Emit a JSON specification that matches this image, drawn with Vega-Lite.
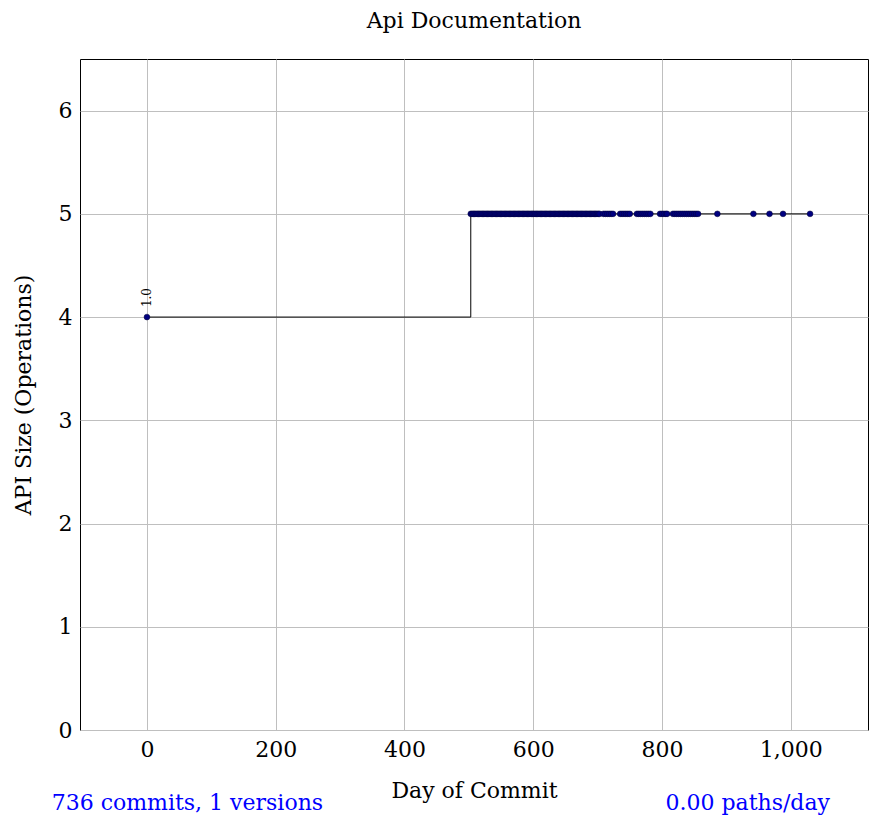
{
  "$schema": "https://vega.github.io/schema/vega-lite/v6.json",
  "width": 788,
  "height": 671,
  "autosize": {"type": "none"},
  "padding": {"left": 80, "top": 59, "right": 1, "bottom": 93},
  "background": "white",
  "config": {
    "font": "DejaVu Serif",
    "view": {"stroke": "black", "strokeWidth": 1},
    "axis": {
      "labelFont": "DejaVu Serif",
      "titleFont": "DejaVu Serif",
      "labelFontSize": 22,
      "titleFontSize": 22,
      "titleFontWeight": "normal",
      "labelColor": "black",
      "titleColor": "black",
      "gridColor": "#bfbfbf",
      "gridWidth": 1,
      "domain": false,
      "ticks": false
    },
    "title": {"font": "DejaVu Serif", "fontSize": 22, "fontWeight": "normal", "color": "black", "offset": 26}
  },
  "title": {"text": "Api Documentation", "anchor": "middle"},
  "datasets": {
    "commits": [
      {"day": 0, "size": 4, "version": "1.0"},
      {"day": 503, "size": 5}, {"day": 505, "size": 5}, {"day": 507, "size": 5}, {"day": 509, "size": 5},
      {"day": 511, "size": 5}, {"day": 513, "size": 5}, {"day": 515, "size": 5}, {"day": 517, "size": 5},
      {"day": 519, "size": 5}, {"day": 521, "size": 5}, {"day": 523, "size": 5}, {"day": 525, "size": 5},
      {"day": 527, "size": 5}, {"day": 529, "size": 5}, {"day": 531, "size": 5}, {"day": 533, "size": 5},
      {"day": 535, "size": 5}, {"day": 537, "size": 5}, {"day": 539, "size": 5}, {"day": 541, "size": 5},
      {"day": 543, "size": 5}, {"day": 545, "size": 5}, {"day": 547, "size": 5}, {"day": 549, "size": 5},
      {"day": 551, "size": 5}, {"day": 553, "size": 5}, {"day": 555, "size": 5}, {"day": 557, "size": 5},
      {"day": 559, "size": 5}, {"day": 561, "size": 5}, {"day": 563, "size": 5}, {"day": 565, "size": 5},
      {"day": 567, "size": 5}, {"day": 569, "size": 5}, {"day": 571, "size": 5}, {"day": 573, "size": 5},
      {"day": 575, "size": 5}, {"day": 577, "size": 5}, {"day": 579, "size": 5}, {"day": 581, "size": 5},
      {"day": 583, "size": 5}, {"day": 585, "size": 5}, {"day": 587, "size": 5}, {"day": 589, "size": 5},
      {"day": 591, "size": 5}, {"day": 593, "size": 5}, {"day": 595, "size": 5}, {"day": 597, "size": 5},
      {"day": 599, "size": 5}, {"day": 601, "size": 5}, {"day": 603, "size": 5}, {"day": 605, "size": 5},
      {"day": 607, "size": 5}, {"day": 609, "size": 5}, {"day": 611, "size": 5}, {"day": 613, "size": 5},
      {"day": 615, "size": 5}, {"day": 617, "size": 5}, {"day": 619, "size": 5}, {"day": 621, "size": 5},
      {"day": 623, "size": 5}, {"day": 625, "size": 5}, {"day": 627, "size": 5}, {"day": 629, "size": 5},
      {"day": 631, "size": 5}, {"day": 633, "size": 5}, {"day": 635, "size": 5}, {"day": 637, "size": 5},
      {"day": 639, "size": 5}, {"day": 641, "size": 5}, {"day": 643, "size": 5}, {"day": 645, "size": 5},
      {"day": 647, "size": 5}, {"day": 649, "size": 5}, {"day": 651, "size": 5}, {"day": 653, "size": 5},
      {"day": 655, "size": 5}, {"day": 657, "size": 5}, {"day": 659, "size": 5}, {"day": 661, "size": 5},
      {"day": 663, "size": 5}, {"day": 665, "size": 5}, {"day": 667, "size": 5}, {"day": 669, "size": 5},
      {"day": 671, "size": 5}, {"day": 673, "size": 5}, {"day": 675, "size": 5}, {"day": 677, "size": 5},
      {"day": 679, "size": 5}, {"day": 681, "size": 5}, {"day": 683, "size": 5}, {"day": 685, "size": 5},
      {"day": 687, "size": 5}, {"day": 689, "size": 5}, {"day": 691, "size": 5}, {"day": 693, "size": 5},
      {"day": 695, "size": 5}, {"day": 697, "size": 5}, {"day": 699, "size": 5}, {"day": 701, "size": 5},
      {"day": 703, "size": 5},
      {"day": 709, "size": 5}, {"day": 712, "size": 5}, {"day": 715, "size": 5}, {"day": 718, "size": 5},
      {"day": 721, "size": 5}, {"day": 724, "size": 5},
      {"day": 735, "size": 5}, {"day": 738, "size": 5}, {"day": 741, "size": 5}, {"day": 744, "size": 5},
      {"day": 747, "size": 5}, {"day": 750, "size": 5},
      {"day": 761, "size": 5}, {"day": 764, "size": 5}, {"day": 767, "size": 5}, {"day": 770, "size": 5},
      {"day": 773, "size": 5}, {"day": 776, "size": 5}, {"day": 779, "size": 5}, {"day": 782, "size": 5},
      {"day": 797, "size": 5}, {"day": 800, "size": 5}, {"day": 803, "size": 5}, {"day": 806, "size": 5},
      {"day": 808, "size": 5},
      {"day": 817, "size": 5}, {"day": 820, "size": 5}, {"day": 823, "size": 5}, {"day": 826, "size": 5},
      {"day": 829, "size": 5}, {"day": 832, "size": 5}, {"day": 835, "size": 5}, {"day": 838, "size": 5},
      {"day": 841, "size": 5}, {"day": 844, "size": 5}, {"day": 847, "size": 5}, {"day": 850, "size": 5},
      {"day": 853, "size": 5}, {"day": 856, "size": 5},
      {"day": 886, "size": 5}, {"day": 942, "size": 5}, {"day": 967, "size": 5}, {"day": 988, "size": 5},
      {"day": 1030, "size": 5}
    ],
    "notes": [
      {"day": -148, "size": -0.71, "note": "736 commits, 1 versions", "side": "left"},
      {"day": 1061, "size": -0.71, "note": "0.00 paths/day", "side": "right"}
    ]
  },
  "layer": [
    {
      "data": {"name": "commits"},
      "mark": {"type": "line", "interpolate": "step-after", "color": "black", "strokeWidth": 1},
      "encoding": {
        "x": {
          "field": "day", "type": "quantitative",
          "scale": {"domain": [-104, 1120], "nice": false, "zero": false},
          "axis": {"title": "Day of Commit", "values": [0, 200, 400, 600, 800, 1000], "format": ",.0f", "labelPadding": 9, "titlePadding": 20}
        },
        "y": {
          "field": "size", "type": "quantitative",
          "scale": {"domain": [0, 6.5], "nice": false},
          "axis": {"title": "API Size (Operations)", "values": [0, 1, 2, 3, 4, 5, 6], "format": ".0f", "labelPadding": 8, "titlePadding": 23}
        }
      }
    },
    {
      "data": {"name": "commits"},
      "mark": {"type": "circle", "size": 34, "color": "#000080", "opacity": 1, "stroke": "#000033", "strokeWidth": 0.5},
      "encoding": {
        "x": {"field": "day", "type": "quantitative"},
        "y": {"field": "size", "type": "quantitative"}
      }
    },
    {
      "data": {"name": "commits"},
      "transform": [{"filter": "datum.version"}],
      "mark": {"type": "text", "angle": 270, "align": "left", "baseline": "middle", "dx": 10, "fontSize": 12, "font": "DejaVu Serif", "color": "black"},
      "encoding": {
        "x": {"field": "day", "type": "quantitative"},
        "y": {"field": "size", "type": "quantitative"},
        "text": {"field": "version"}
      }
    },
    {
      "data": {"name": "notes"},
      "transform": [{"filter": "datum.side === 'left'"}],
      "mark": {"type": "text", "align": "left", "baseline": "middle", "fontSize": 22, "font": "DejaVu Serif", "color": "#0000ff"},
      "encoding": {
        "x": {"field": "day", "type": "quantitative"},
        "y": {"field": "size", "type": "quantitative"},
        "text": {"field": "note"}
      }
    },
    {
      "data": {"name": "notes"},
      "transform": [{"filter": "datum.side === 'right'"}],
      "mark": {"type": "text", "align": "right", "baseline": "middle", "fontSize": 22, "font": "DejaVu Serif", "color": "#0000ff"},
      "encoding": {
        "x": {"field": "day", "type": "quantitative"},
        "y": {"field": "size", "type": "quantitative"},
        "text": {"field": "note"}
      }
    }
  ]
}
